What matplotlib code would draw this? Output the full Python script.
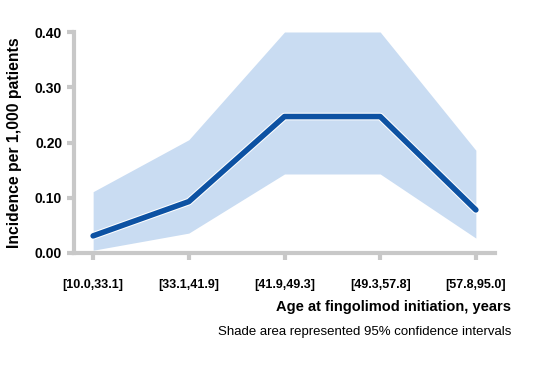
import matplotlib.pyplot as plt
import matplotlib.patheffects as pe

age_groups = ["[10.0,33.1]", "[33.1,41.9]", "[41.9,49.3]", "[49.3,57.8]", "[57.8,95.0]"]
incidence = [0.031, 0.093, 0.247, 0.247, 0.078]
ci_lower = [0.005, 0.036, 0.143, 0.143, 0.027]
ci_upper = [0.111, 0.205, 0.400, 0.400, 0.186]

plt.rcParams["font.family"] = ["Liberation Sans", "DejaVu Sans"]

fig = plt.figure(figsize=(5.4, 3.75), dpi=100)
ax = fig.add_axes([74 / 540, 1 - 253 / 375, (495 - 74) / 540, (253 - 32) / 375])

x = range(len(age_groups))
ax.fill_between(x, ci_lower, ci_upper, color="#c9dcf2", lw=0)
ax.plot(x, incidence, color="#0d52a3", lw=4, solid_capstyle="round",
        path_effects=[pe.Stroke(linewidth=5.5, foreground="white"), pe.Normal()])

ax.set_xlim(-0.2, 4.2)
ax.set_ylim(0, 0.40)
ax.set_xticks(list(x))
ax.set_xticklabels(age_groups, fontsize=9, fontweight="bold")
ax.set_yticks([0, 0.1, 0.2, 0.3, 0.4])
ax.set_yticklabels([f"{v:.2f}" for v in [0, 0.1, 0.2, 0.3, 0.4]], fontsize=10, fontweight="bold")
ax.tick_params(colors="#c8c8c8", width=3, length=5, labelcolor="black")
ax.tick_params(axis="x", pad=14)

for s in ["top", "right"]:
    ax.spines[s].set_visible(False)
for s in ["left", "bottom"]:
    ax.spines[s].set_color("#c8c8c8")
    ax.spines[s].set_linewidth(3)

ax.set_ylabel("Incidence per 1,000 patients", fontsize=11.3, fontweight="bold", labelpad=9)
fig.text(511 / 540, 1 - 307 / 375, "Age at fingolimod initiation, years",
         ha="right", va="center", fontsize=10.5, fontweight="bold")
fig.text(511 / 540, 1 - 332 / 375, "Shade area represented 95% confidence intervals",
         ha="right", va="center", fontsize=9.5)

fig.savefig("out.png", dpi=100)
